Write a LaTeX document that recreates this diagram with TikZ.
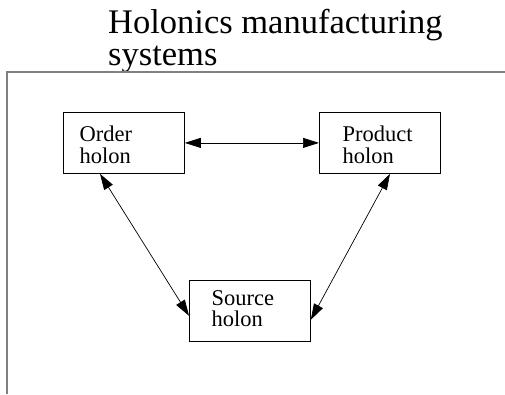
\documentclass[tikz,border=0pt]{standalone}
\usepackage{fontspec}
\setmainfont{Liberation Serif}
\usetikzlibrary{arrows.meta,calc}
\tikzset{
  holonbox/.style={draw, line width=0.8pt, minimum width=121pt, minimum height=61pt, inner sep=0pt, anchor=north west},
  lbl/.style={anchor=base west, inner sep=0pt, font=\fontsize{22.5}{21.5}\selectfont},
  ttl/.style={anchor=base west, inner sep=0pt, font=\fontsize{34.5}{32}\selectfont},
  link/.style={{Triangle[length=16pt,width=10pt]}-{Triangle[length=16pt,width=10pt]}, line width=0.7pt},
  framestyle/.style={draw=black!50, line width=2pt}
}
\begin{document}
\begin{tikzpicture}[x=1pt,y=-1pt]
\useasboundingbox (0,0) rectangle (505,394);
% title
\node[ttl] (title) at (108,33) {\vtop{\hbox{Holonics manufacturing}\hbox{systems}}};
% frame
\coordinate (fr) at (505,71.5);
\coordinate (fc) at (6.7,71.5);
\coordinate (fb) at (6.7,394);
\draw[framestyle] (fr) -- (fc) -- (fb);
% boxes
\node[holonbox] (ob) at (63,112) {};
\node[holonbox] (pb) at (319,112) {};
\node[holonbox] (sb) at (189,280) {};
% labels
\node[lbl] (ot) at (79.5,141.7) {\vtop{\hbox{Order}\hbox{holon}}};
\node[lbl] (pt) at (342.5,141.7) {\vtop{\hbox{Product}\hbox{holon}}};
\node[lbl] (st) at (211.5,305) {\vtop{\hbox{Source}\hbox{holon}}};
% connectors
\draw[link] (ob.east) -- (pb.west);
\draw[link] ([xshift=37pt]ob.south west) -- ([yshift=26pt]sb.south west);
\draw[link] ([xshift=71pt]pb.south west) -- ([yshift=22pt]sb.south east);
\end{tikzpicture}
\end{document}
